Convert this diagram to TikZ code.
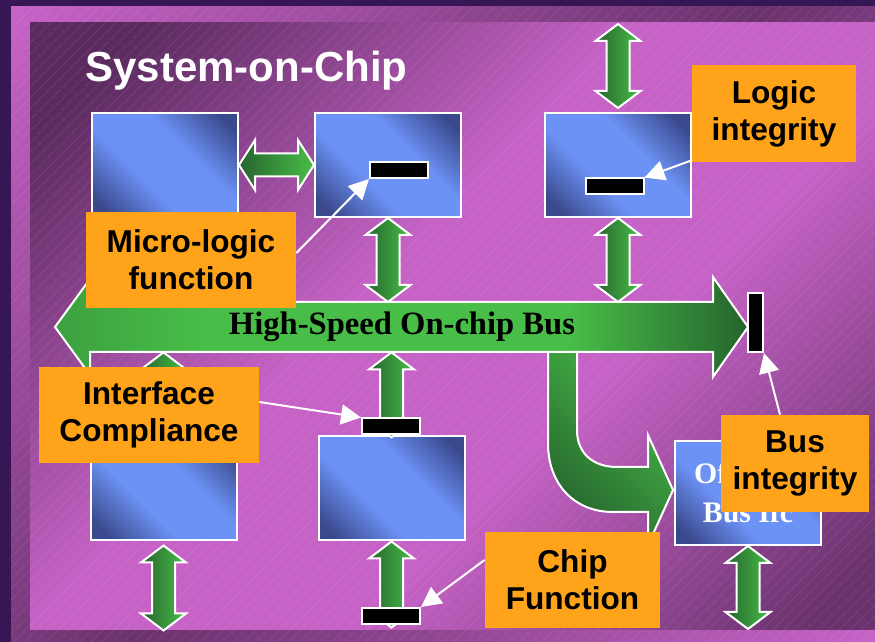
\documentclass[tikz,border=0pt]{standalone}
\usepackage{fontspec}
\setmainfont{Liberation Sans}
\newfontfamily\serifbold{Liberation Serif}
\usetikzlibrary{arrows.meta, positioning, patterns.meta}
\definecolor{deeppurple}{RGB}{55,22,85}
\definecolor{panellight}{RGB}{198,98,198}
\definecolor{paneldark}{RGB}{90,42,94}
\definecolor{boxlight}{RGB}{108,146,245}
\definecolor{boxdark}{RGB}{58,72,140}
\definecolor{greenlight}{RGB}{72,190,72}
\definecolor{greenmid}{RGB}{60,160,64}
\definecolor{greendark}{RGB}{38,100,46}
\definecolor{tagorange}{RGB}{255,163,26}

\pgfdeclareverticalshading{panelshade}{100bp}{color(0bp)=(paneldark!85!panellight); color(18bp)=(paneldark!85!panellight); color(40bp)=(panellight); color(56bp)=(panellight); color(80bp)=(paneldark); color(100bp)=(paneldark)}
\pgfdeclareverticalshading{frameshade}{100bp}{color(0bp)=(panellight); color(15bp)=(panellight); color(50bp)=(paneldark!85!panellight); color(85bp)=(panellight); color(100bp)=(panellight)}
\pgfdeclareverticalshading{coreshade}{100bp}{color(0bp)=(boxdark); color(20bp)=(boxdark); color(40bp)=(boxlight); color(60bp)=(boxlight); color(80bp)=(boxdark); color(100bp)=(boxdark)}
\pgfdeclarehorizontalshading{busshade}{100bp}{color(0bp)=(greenmid); color(25bp)=(greenmid); color(36bp)=(greenlight); color(62bp)=(greenlight); color(75bp)=(greendark); color(100bp)=(greendark)}

\begin{document}
\begin{tikzpicture}[
        x=0.5pt, y=-0.5pt,
        core/.style={rectangle, draw=white, line width=1pt, shade, shading=coreshade, shading angle=-45, minimum width=73pt, minimum height=52pt, inner sep=0pt},
        probe/.style={rectangle, draw=white, line width=1pt, fill=black, inner sep=0pt, minimum width=29pt, minimum height=8pt},
        tag/.style={rectangle, fill=tagorange, align=center, inner sep=0pt, minimum height=48pt, font=\fontsize{15.8}{18.5}\selectfont\bfseries},
        link/.style={draw=white, line width=1pt, left color=greendark, right color=greenlight},
        busbody/.style={draw=white, line width=1pt, shade, shading=busshade},
        pointer/.style={draw=white, line width=1pt, -{Triangle[length=10pt, width=10pt]}},
        pics/vlink/.style={code={
            \path [link] (0,0) -- (22.5,17) -- (11.5,17) -- (11.5,#1-17) -- (22.5,#1-17) -- (0,#1) -- (-22.5,#1-17) -- (-11.5,#1-17) -- (-11.5,17) -- (-22.5,17) -- cycle;
        }},
        pics/hlink/.style={code={
            \path [link] (0,0) -- (16,-25) -- (16,-11.5) -- (#1-16,-11.5) -- (#1-16,-25) -- (#1,0) -- (#1-16,25) -- (#1-16,11.5) -- (16,11.5) -- (16,25) -- cycle;
        }},
        node distance=37.5pt
        ]

        \useasboundingbox (0,0) rectangle (875,642);

        % Background
        \fill [deeppurple] (0,0) rectangle (875,642);
        \shade [shading=frameshade, shading angle=45] (11,7) rectangle (875,642);
        \shade [shading=panelshade, shading angle=45] (30,23) rectangle (875,630);
        \fill [pattern={Lines[angle=45, distance=4pt, line width=0.4pt]}, pattern color=white, fill opacity=0.1] (11,7) rectangle (875,642);

        \node (title) [anchor=base west, text=white, inner sep=0pt, font=\fontsize{21}{25}\selectfont\bfseries] at (85,82) {System-on-Chip};

        % Bus
        \path [link, top color=greenlight, bottom color=greendark, shading angle=-45] (548,340) -- (548,443) .. controls (548,485) and (575,512) .. (613,512) -- (648,512) -- (648,545) -- (673,490) -- (648,435) -- (648,467) -- (617,467) .. controls (595,467) and (577,455) .. (577,430) -- (577,340) -- cycle;
        \path [busbody] (55,327) -- (90,279) -- (90,302) -- (713,302) -- (713,277) -- (748,327) -- (713,377) -- (713,352) -- (90,352) -- (90,375) -- cycle;
        \node (bus) [minimum height=25pt, inner sep=0pt, font=\serifbold\fontsize{16.3}{19}\selectfont\bfseries] at (402,327) {High-Speed On-chip Bus};

        % Nodes
        \node (core1) [core] at (165,165) {};
        \node (core2) [core, right=of core1] {};
        \node (core3) [core, right=41pt of core2] {};
        \node (core4) [core] at (163.5,488.5) {};
        \node (core5) [core, right=40pt of core4] {};
        \node (offchip) [core, text=white, align=center, font=\serifbold\fontsize{14.9}{19.5}\selectfont\bfseries] at (748,493) {Off-chip\\Bus Ifc};

        % Links
        \pic at (core1.east) {hlink=75};
        \pic at (core2.south) {vlink=84};
        \pic at (core3.south) {vlink=84};
        \pic at ([yshift=44pt]core3.north) {vlink=84};
        \pic at (core4.north |- bus.south) {vlink=85};
        \pic at (core5.north |- bus.south) {vlink=85};
        \pic at ([yshift=-2pt]core4.south) {vlink=85};
        \pic at (core5.south) {vlink=86};
        \pic at (offchip.south) {vlink=83};

        % Probes
        \node (probe1) [probe] at (399,170) {};
        \node (probe2) [probe] at (614.5,186.5) {};
        \node (probe3) [probe] at (391,426.5) {};
        \node (probe4) [probe] at (391,616) {};
        \node (probe5) [probe, minimum width=7.5pt, minimum height=29.5pt] at (755.5,322.5) {};

        % Labels
        \node (tagmicro) [tag, minimum width=105pt] at (191,260) {Micro-logic\\function};
        \node (taglogic) [tag, minimum width=82pt, minimum height=48.5pt] at (774,113.5) {Logic\\integrity};
        \node (tagiface) [tag, minimum width=110pt] at (149,415) {Interface\\Compliance};
        \node (tagchip) [tag, minimum width=87.5pt] at (572.5,580) {Chip\\Function};
        \node (tagbus) [tag, minimum width=74pt, minimum height=48.5pt] at (795,463.5) {Bus\\integrity};

        % Pointers
        \draw [pointer] ([yshift=3.5pt]tagmicro.east) -- (probe1.south west);
        \draw [pointer] ([yshift=1pt]taglogic.south west) -- (probe2.north east);
        \draw [pointer] ([yshift=6.5pt]tagiface.east) -- (probe3.north west);
        \draw [pointer] ([yshift=10pt]tagchip.west) -- (probe4.north east);
        \draw [pointer] ([xshift=-7.5pt]tagbus.north) -- (probe5.south east);

    \end{tikzpicture}
\end{document}
